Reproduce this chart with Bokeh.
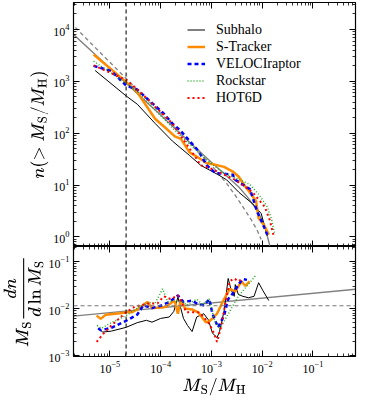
import numpy as np
from bokeh.plotting import figure
from bokeh.models import FixedTicker, LogAxis, Span, Legend, LegendItem, Range1d
from bokeh.layouts import column
from bokeh.embed import file_html
from bokeh.resources import INLINE

FONT = "serif"

# ---------------- data (log10 values) ----------------
# Top panel: cumulative function n(>M_S/M_H)
sub_lx = [-5.29, -4.68, -4.46, -4.11, -3.77, -3.43, -3.21, -3.04, -2.87, -2.70, -2.46, -2.19, -2.02, -1.93, -1.90]
sub_ly = [3.21, 2.72, 2.56, 2.19, 1.85, 1.57, 1.38, 1.29, 1.20, 1.10, 0.86, 0.64, 0.45, 0.13, 0.02]

st_lx = [-5.32, -4.68, -4.46, -4.11, -3.89, -3.72, -3.60, -3.43, -3.26, -3.09, -2.97, -2.75, -2.58, -2.46, -2.36, -2.29, -2.12, -2.07, -1.95, -1.87]
st_ly = [3.52, 2.99, 2.79, 2.28, 2.09, 1.94, 1.89, 1.63, 1.53, 1.42, 1.40, 1.35, 1.26, 1.16, 1.01, 0.92, 0.69, 0.36, 0.21, 0.04]

vr_lx = [-5.32, -4.97, -4.68, -4.46, -3.94, -3.77, -3.60, -3.43, -3.26, -3.09, -2.92, -2.75, -2.58, -2.53, -2.24, -2.10, -2.02, -1.90]
vr_ly = [3.30, 3.20, 2.92, 2.84, 2.38, 2.19, 2.04, 1.85, 1.66, 1.38, 1.23, 1.22, 1.20, 1.10, 0.92, 0.49, 0.32, 0.04]

rs_lx = [-5.32, -4.68, -4.46, -3.60, -3.09, -2.75, -2.53, -2.24, -2.07, -1.90, -1.81, -1.76]
rs_ly = [3.39, 2.97, 2.80, 1.94, 1.48, 1.23, 1.14, 1.01, 0.82, 0.58, 0.32, 0.08]

h6_lx = [-5.32, -4.68, -4.46, -3.77, -3.31, -3.21, -3.04, -2.53, -2.19, -1.95, -1.85, -1.78]
h6_ly = [3.31, 3.03, 2.85, 2.19, 1.53, 1.38, 1.33, 1.10, 0.86, 0.58, 0.32, 0.04]

fit_lx = [-5.72, -5.0, -4.5, -4.0, -3.5, -3.0, -2.46, -2.30, -2.12, -2.00, -1.93, -1.85]
fit_ly = [3.91, 3.26, 2.80, 2.35, 1.89, 1.44, 0.96, 0.78, 0.54, 0.32, 0.13, -0.17]

dfit_lx = [-5.68, -5.0, -4.0, -3.0, -2.70, -2.53, -2.36, -2.21, -2.10, -2.02]
dfit_ly = [4.04, 3.37, 2.39, 1.38, 1.03, 0.80, 0.55, 0.32, 0.13, -0.05]

# Bottom panel: differential function M_S dn/dlnM_S
bsub_lx = [-5.23, -5.14, -4.97, -4.68, -4.46, -4.28, -4.17, -4.00, -3.83, -3.74, -3.66, -3.55, -3.47, -3.38, -3.29, -3.15, -3.06, -2.98, -2.89, -2.84, -2.75, -2.67, -2.61, -2.55, -2.53, -2.47, -2.38, -2.27, -2.16, -2.07, -1.99, -1.87]
bsub_ly = [-2.42, -2.50, -2.48, -2.40, -2.30, -2.25, -2.29, -2.21, -2.18, -2.06, -1.76, -2.21, -2.36, -2.49, -2.18, -2.11, -2.24, -2.52, -2.62, -2.49, -2.05, -1.36, -1.61, -1.74, -1.49, -1.70, -1.74, -1.77, -1.74, -1.45, -1.61, -1.83]

bst_lx = [-5.26, -5.18, -5.08, -4.80, -4.68, -4.57, -4.46, -4.26, -4.17, -4.00, -3.89, -3.77, -3.72, -3.66, -3.60, -3.52, -3.38, -3.26, -3.11, -3.04, -2.98, -2.89, -2.78, -2.64, -2.53, -2.41, -2.33, -2.25]
bst_ly = [-2.15, -2.22, -2.13, -2.10, -2.08, -2.08, -2.02, -1.86, -1.99, -1.98, -1.96, -1.86, -1.85, -2.11, -1.81, -2.00, -2.02, -2.08, -2.29, -2.27, -2.21, -2.11, -1.86, -1.58, -1.64, -1.42, -1.52, -1.42]

bvr_lx = [-5.23, -5.18, -4.97, -4.68, -4.46, -4.34, -4.17, -4.00, -3.83, -3.66, -3.55, -3.38, -3.26, -3.15, -3.04, -2.98, -2.87, -2.75, -2.67, -2.55, -2.47, -2.38, -2.30]
bvr_ly = [-2.42, -2.46, -2.41, -2.26, -2.13, -1.93, -1.99, -1.94, -1.86, -1.72, -1.86, -1.83, -1.91, -1.93, -1.80, -2.11, -2.40, -2.15, -1.80, -1.64, -1.49, -1.37, -1.39]

brs_lx = [-5.25, -5.17, -4.97, -4.68, -4.46, -4.23, -4.11, -3.96, -3.86, -3.72, -3.55, -3.49, -3.29, -3.18, -3.04, -2.95, -2.84, -2.47, -2.13]
brs_ly = [-2.36, -2.42, -2.30, -2.15, -1.99, -1.87, -1.89, -1.58, -1.86, -1.83, -1.86, -1.93, -1.80, -1.91, -1.80, -2.21, -2.44, -1.74, -1.30]

bh6_lx = [-5.26, -5.14, -4.97, -4.68, -4.51, -4.23, -4.06, -3.94, -3.80, -3.66, -3.49, -3.26, -3.15, -3.04, -2.95, -2.89, -2.81, -2.72, -2.64, -2.55, -2.47, -2.38]
bh6_ly = [-2.71, -2.55, -2.36, -2.08, -1.96, -1.89, -1.89, -1.74, -1.80, -1.72, -2.08, -2.08, -2.18, -2.33, -2.52, -2.71, -2.40, -1.86, -1.42, -1.36, -1.42, -1.36]

bfit_lx = [-5.72, -0.16]
bfit_ly = [-2.16, -1.59]

vline_x = 2.09e-5       # vertical dashed reference
hline_y = 0.0115        # horizontal dashed reference (bottom panel)

x_major = [1e-5, 1e-4, 1e-3, 1e-2, 1e-1]
top_y_major = [1e0, 1e1, 1e2, 1e3, 1e4]
bot_y_major = [1e-3, 1e-2, 1e-1]


def minor(decades):
    return [m * 10.0 ** d for d in decades for m in range(2, 10)]


def p10(a):
    return 10.0 ** np.asarray(a)


x_ticker = FixedTicker(ticks=x_major, minor_ticks=minor(range(-6, 0)))
ty_ticker = FixedTicker(ticks=top_y_major, minor_ticks=minor(range(-1, 5)))
by_ticker = FixedTicker(ticks=bot_y_major, minor_ticks=minor(range(-4, 0)))


def style_axis(ax, ticker, show):
    ax.ticker = ticker
    ax.axis_line_color = "black"
    ax.axis_line_width = 1.2
    ax.major_tick_in = 6
    ax.major_tick_out = 0
    ax.minor_tick_in = 3
    ax.minor_tick_out = 0
    ax.major_tick_line_color = "black"
    ax.minor_tick_line_color = "black"
    ax.major_tick_line_width = 1
    ax.minor_tick_line_width = 0.8
    if show:
        ax.major_label_text_font = FONT
        ax.major_label_text_font_size = "12px"
        ax.major_label_text_color = "black"
        ax.major_label_standoff = 4
    else:
        ax.major_label_text_font_size = "1px"
        ax.major_label_text_alpha = 0
        ax.major_label_standoff = 0


xr = Range1d(10 ** -5.716, 10 ** -0.162)

top = figure(width=358, height=246, x_axis_type="log", y_axis_type="log",
             x_range=xr, y_range=Range1d(10 ** -0.187, 10 ** 4.523),
             output_backend="svg", toolbar_location=None,
             min_border_left=46, min_border_right=3, min_border_top=2, min_border_bottom=0)
bot = figure(width=358, height=152, x_axis_type="log", y_axis_type="log",
             x_range=xr, y_range=Range1d(10 ** -3.02, 10 ** -0.68),
             output_backend="svg", toolbar_location=None,
             min_border_left=46, min_border_right=3, min_border_top=0, min_border_bottom=33)

for p in (top, bot):
    p.grid.visible = False
    p.outline_line_color = "black"
    p.background_fill_color = "white"
    p.border_fill_color = "white"
    p.add_layout(LogAxis(), "right")
    p.add_layout(LogAxis(), "above")

# axes styling
style_axis(top.below[0], x_ticker, False)
style_axis(top.above[0], x_ticker, False)
style_axis(top.left[0], ty_ticker, True)
style_axis(top.right[0], ty_ticker, False)
style_axis(bot.below[0], x_ticker, True)
style_axis(bot.above[0], x_ticker, False)
style_axis(bot.left[0], by_ticker, True)
style_axis(bot.right[0], by_ticker, False)

top.left[0].axis_label = r"$$n(>M_\mathrm{S}/M_\mathrm{H})$$"
bot.left[0].axis_label = r"$$M_\mathrm{S}\frac{dn}{d\ln M_\mathrm{S}}$$"
bot.below[0].axis_label = r"$$M_\mathrm{S}/M_\mathrm{H}$$"
for ax in (top.left[0], bot.left[0], bot.below[0]):
    ax.axis_label_text_font_size = "14px"
    ax.axis_label_standoff = 2
    ax.axis_label_text_color = "black"

# reference lines
for p in (top, bot):
    p.add_layout(Span(location=vline_x, dimension="height", line_color="#222222",
                      line_dash="4 3", line_width=1.2))
bot.add_layout(Span(location=hline_y, dimension="width", line_color="#777777",
                    line_dash="4 3", line_width=1.1))

# ---- top panel lines
top.line(p10(fit_lx), p10(fit_ly), line_color="#808080", line_width=1.4)
top.line(p10(dfit_lx), p10(dfit_ly), line_color="#888888", line_width=1.4, line_dash="4 3")
r_sub = top.line(p10(sub_lx), p10(sub_ly), line_color="black", line_width=1)
r_st = top.line(p10(st_lx), p10(st_ly), line_color="#ff8c00", line_width=2.5)
r_vr = top.line(p10(vr_lx), p10(vr_ly), line_color="blue", line_width=2.5, line_dash="4 3")
r_rs = top.line(p10(rs_lx), p10(rs_ly), line_color="#22aa22", line_width=1.5, line_dash="1 2")
r_h6 = top.line(p10(h6_lx), p10(h6_ly), line_color="red", line_width=2, line_dash="2 3")

# ---- bottom panel lines
bot.line(p10(bfit_lx), p10(bfit_ly), line_color="#808080", line_width=1.4)
bot.line(p10(bsub_lx), p10(bsub_ly), line_color="black", line_width=1)
bot.line(p10(bst_lx), p10(bst_ly), line_color="#ff8c00", line_width=2.5)
bot.line(p10(bvr_lx), p10(bvr_ly), line_color="blue", line_width=2.5, line_dash="4 3")
bot.line(p10(brs_lx), p10(brs_ly), line_color="#22aa22", line_width=1.5, line_dash="1 2")
bot.line(p10(bh6_lx), p10(bh6_ly), line_color="red", line_width=2, line_dash="2 3")

legend = Legend(items=[
    LegendItem(label="Subhalo", renderers=[r_sub]),
    LegendItem(label="S-Tracker", renderers=[r_st]),
    LegendItem(label="VELOCIraptor", renderers=[r_vr]),
    LegendItem(label="Rockstar", renderers=[r_rs]),
    LegendItem(label="HOT6D", renderers=[r_h6]),
], location=(114, 140))
legend.border_line_alpha = 0
legend.background_fill_alpha = 0
legend.label_text_font = FONT
legend.label_text_font_size = "14px"
legend.label_text_color = "black"
legend.glyph_width = 18
legend.glyph_height = 17
legend.label_height = 17
legend.label_standoff = 11
legend.spacing = 0
legend.padding = 0
legend.margin = 0
top.add_layout(legend)

layout = column(top, bot, spacing=0)
open("out.html", "w").write(file_html(layout, INLINE))
